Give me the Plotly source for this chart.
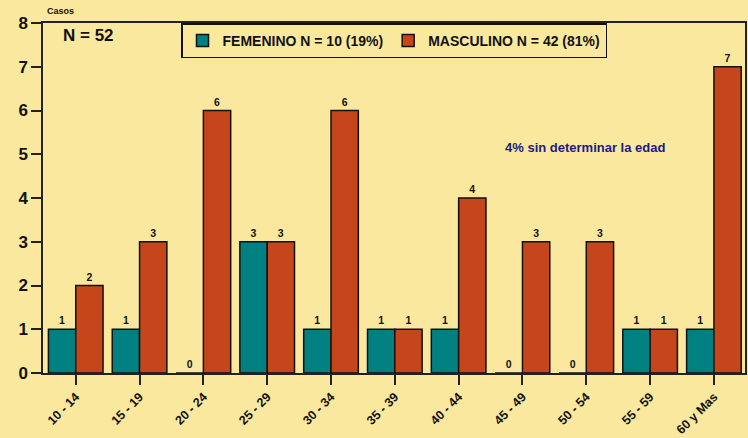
import plotly.graph_objects as go

categories = ["10 - 14", "15 - 19", "20 - 24", "25 - 29", "30 - 34", "35 - 39",
              "40 - 44", "45 - 49", "50 - 54", "55 - 59", "60 y Mas"]
femenino = [1, 1, 0, 3, 1, 1, 1, 0, 0, 1, 1]
masculino = [2, 3, 6, 3, 6, 1, 4, 3, 3, 1, 7]
y_ticks = [0, 1, 2, 3, 4, 5, 6, 7, 8]

BG = "#FAE89E"
FONT = "Liberation Sans, Arial, sans-serif"

fig = go.Figure()
fig.add_trace(go.Bar(
    x=categories, y=femenino, name="FEMENINO N = 10 (19%)",
    marker=dict(color="#008080", line=dict(color="#111111", width=1.5)),
    text=[str(v) for v in femenino], textposition="outside",
    textfont=dict(family=FONT, size=10.5, color="#111111", weight="bold"),
    cliponaxis=False,
))
fig.add_trace(go.Bar(
    x=categories, y=masculino, name="MASCULINO N = 42 (81%)",
    marker=dict(color="#C4461A", line=dict(color="#111111", width=1.5)),
    text=[str(v) for v in masculino], textposition="outside",
    textfont=dict(family=FONT, size=10.5, color="#111111", weight="bold"),
    cliponaxis=False,
))

fig.update_layout(
    width=748, height=438,
    paper_bgcolor=BG, plot_bgcolor=BG,
    margin=dict(l=43, r=3, t=23, b=65),
    barmode="group", bargap=0.144, bargroupgap=0,
    font=dict(family=FONT, color="#111111"),
    showlegend=True,
    legend=dict(
        orientation="h", x=0.5, y=0.949, xanchor="center", yanchor="middle",
        bgcolor=BG, bordercolor="#111111", borderwidth=1.5,
        font=dict(family=FONT, size=14, weight="bold", color="#111111"),
        itemwidth=30, tracegroupgap=0,
    ),
    xaxis=dict(
        range=[-0.513, 10.487], showline=True, linecolor="#222222", linewidth=1.5,
        mirror=True, ticks="outside", ticklen=10, tickcolor="#222222", tickwidth=1.5,
        tickangle=-45, tickfont=dict(family=FONT, size=12.5, weight="bold", color="#111111"),
        showgrid=False, zeroline=False, automargin=False,
    ),
    yaxis=dict(
        range=[0, 8], tickvals=y_ticks, showline=True, linecolor="#222222", linewidth=1.5,
        mirror=True, ticks="outside", ticklen=10, tickcolor="#222222", tickwidth=1.5,
        tickfont=dict(family=FONT, size=17, weight="bold", color="#111111"),
        showgrid=False, zeroline=False, automargin=False,
    ),
    annotations=[
        dict(text="Casos", xref="paper", yref="paper", x=0.003, y=1.0, yshift=5,
             xanchor="left", yanchor="bottom", showarrow=False,
             font=dict(family=FONT, size=9, weight="bold", color="#111111")),
        dict(text="N = 52", xref="paper", yref="paper", x=0.025, y=0.997,
             xanchor="left", yanchor="top", showarrow=False,
             font=dict(family=FONT, size=17, weight="bold", color="#111111")),
        dict(text="4% sin determinar la edad", xref="paper", yref="paper",
             x=0.655, y=0.643, xanchor="left", yanchor="middle", showarrow=False,
             font=dict(family=FONT, size=13, weight="bold", color="#1A1A8C")),
    ],
)

fig.write_html(
    "out.html",
    config={"displayModeBar": False},
    post_script=("document.body.style.margin='0';document.body.style.padding='0';"
                 "document.body.style.overflow='hidden';"
                 "document.body.style.background='" + BG + "';"),
)
